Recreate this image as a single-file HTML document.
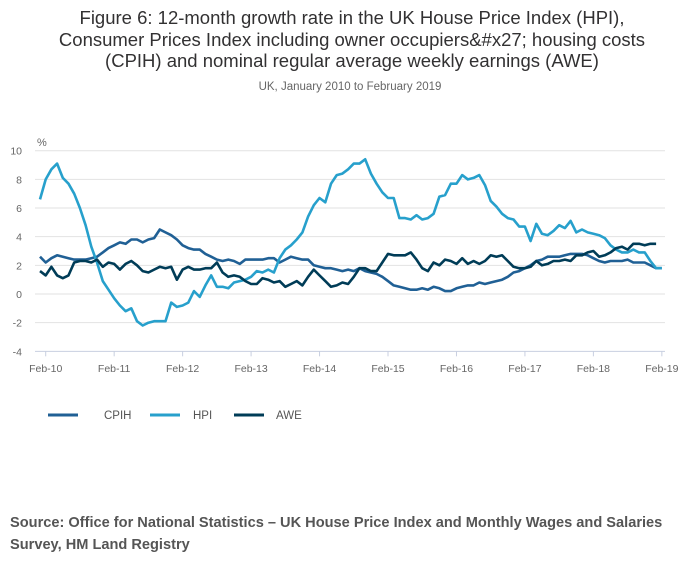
<!DOCTYPE html>
<html><head><meta charset="utf-8"><style>
body{margin:0;width:700px;height:574px;background:#fff;font-family:"Liberation Sans",sans-serif;overflow:hidden}
svg text{font-family:"Liberation Sans",sans-serif}
</style></head><body>
<svg id="chart" width="700" height="574" xmlns="http://www.w3.org/2000/svg">
<g fill="#323132" font-size="18.5" text-anchor="middle">
<text x="352" y="24">Figure 6: 12-month growth rate in the UK House Price Index (HPI),</text>
<text x="352" y="46">Consumer Prices Index including owner occupiers&amp;#x27; housing costs</text>
<text x="352" y="67">(CPIH) and nominal regular average weekly earnings (AWE)</text>
</g>
<text x="350" y="90" font-size="11.5" fill="#666" text-anchor="middle">UK, January 2010 to February 2019</text>
<text x="37" y="146" font-size="11" fill="#666">%</text>
<g id="grid"></g><g id="axes"></g><g id="series"></g>
<g font-size="11.5" fill="#555">
<line x1="48" y1="415" x2="78" y2="415" stroke="#206095" stroke-width="3"/>
<text x="104" y="419">CPIH</text>
<line x1="150" y1="415" x2="180" y2="415" stroke="#27a0cc" stroke-width="3"/>
<text x="193" y="419">HPI</text>
<line x1="234" y1="415" x2="264" y2="415" stroke="#003c57" stroke-width="3"/>
<text x="276" y="419">AWE</text>
</g>
<g font-size="14.6" font-weight="bold" fill="#555">
<text x="10" y="527">Source: Office for National Statistics – UK House Price Index and Monthly Wages and Salaries</text>
<text x="10" y="549">Survey, HM Land Registry</text>
</g>
</svg>
<script>
const yTicks=[10,8,6,4,2,0,-2,-4];
const xTickLabels=["Feb-10","Feb-11","Feb-12","Feb-13","Feb-14","Feb-15","Feb-16","Feb-17","Feb-18","Feb-19"];
const hpi=[6.6,8.0,8.7,9.1,8.1,7.7,7.0,6.0,4.8,3.3,2.2,0.9,
0.3,-0.3,-0.8,-1.2,-1.0,-1.9,-2.2,-2.0,-1.9,-1.9,-1.9,-0.6,
-0.9,-0.8,-0.6,0.2,-0.2,0.6,1.3,0.5,0.5,0.4,0.8,0.9,
1.0,1.2,1.6,1.5,1.7,1.5,2.5,3.1,3.4,3.8,4.3,5.4,
6.2,6.7,6.4,7.7,8.3,8.4,8.7,9.1,9.1,9.4,8.4,7.7,
7.1,6.7,6.7,5.3,5.3,5.2,5.5,5.2,5.3,5.6,6.8,6.9,
7.7,7.7,8.3,8.0,8.1,8.3,7.6,6.5,6.1,5.6,5.3,5.2,
4.7,4.7,3.7,4.9,4.2,4.1,4.4,4.8,4.6,5.1,4.3,4.5,
4.3,4.2,4.1,3.9,3.4,3.1,2.9,2.9,3.1,2.9,2.9,2.3,
1.8,1.8];
const cpih=[2.6,2.2,2.5,2.7,2.6,2.5,2.4,2.4,2.4,2.5,2.6,2.9,
3.2,3.4,3.6,3.5,3.8,3.8,3.6,3.8,3.9,4.5,4.3,4.1,
3.8,3.4,3.2,3.1,3.1,2.8,2.6,2.4,2.3,2.4,2.3,2.1,
2.4,2.4,2.4,2.4,2.5,2.5,2.2,2.4,2.6,2.5,2.4,2.4,
2.0,1.9,1.8,1.8,1.7,1.6,1.7,1.6,1.8,1.6,1.5,1.4,
1.2,0.9,0.6,0.5,0.4,0.3,0.3,0.4,0.3,0.5,0.4,0.2,
0.2,0.4,0.5,0.6,0.6,0.8,0.7,0.8,0.9,1.0,1.2,1.5,
1.6,1.8,2.0,2.3,2.4,2.6,2.6,2.6,2.7,2.8,2.8,2.8,
2.7,2.5,2.3,2.2,2.3,2.3,2.3,2.4,2.2,2.2,2.2,2.0,
1.8,1.8];
const awe=[1.6,1.3,1.9,1.3,1.1,1.3,2.2,2.3,2.3,2.2,2.4,1.9,
2.2,2.1,1.7,2.1,2.3,2.0,1.6,1.5,1.7,1.9,1.8,1.9,
1.0,1.7,1.9,1.7,1.7,1.8,1.8,2.2,1.5,1.2,1.3,1.2,
0.9,0.7,0.7,1.1,1.0,0.8,0.9,0.5,0.7,0.9,0.6,1.2,
1.7,1.3,0.9,0.5,0.6,0.8,0.7,1.2,1.8,1.8,1.6,1.6,
2.2,2.8,2.7,2.7,2.7,2.9,2.4,1.8,1.6,2.2,2.0,2.4,
2.3,2.1,2.5,2.1,2.3,2.1,2.3,2.7,2.6,2.7,2.3,1.9,
1.8,1.8,1.9,2.3,2.0,2.1,2.3,2.3,2.4,2.3,2.7,2.7,
2.9,3.0,2.6,2.7,2.9,3.2,3.3,3.1,3.5,3.5,3.4,3.5,
3.5];
const NS="http://www.w3.org/2000/svg";
const x=i=>40+i*5.705;
const y=v=>294-v*14.33;
function mk(t,a,p){const e=document.createElementNS(NS,t);for(const k in a)e.setAttribute(k,a[k]);p.appendChild(e);return e;}
const grid=document.getElementById('grid'),axes=document.getElementById('axes'),ser=document.getElementById('series');
yTicks.forEach(v=>{
  if(v>-4){const l=mk('line',{x1:35,x2:665,y1:y(v),y2:y(v),stroke:'#e2e2e2','stroke-width':1},grid);
  
  }
  const t=mk('text',{x:22,y:y(v)+4,'font-size':10.5,fill:'#666','text-anchor':'end'},axes);t.textContent=v;
  
  
});
const ax=mk('line',{x1:35,x2:665,y1:y(-4),y2:y(-4),stroke:'#c8cfe0','stroke-width':1},axes);


xTickLabels.forEach((lab,k)=>{
  const xx=x(1+k*12);
  mk('line',{x1:xx,x2:xx,y1:y(-4),y2:y(-4)+5,stroke:'#c8cfe0'},axes);
  const t=mk('text',{x:xx,y:372,'font-size':10.5,fill:'#666','text-anchor':'middle'},axes);t.textContent=lab;
  
  
});
[[cpih,'#206095','cpih-line'],[hpi,'#27a0cc','hpi-line'],[awe,'#003c57','awe-line']].forEach(([d,c,n])=>{
  const p=mk('polyline',{points:d.map((v,i)=>x(i).toFixed(1)+','+y(v).toFixed(1)).join(' '),fill:'none',stroke:c,'stroke-width':2.6,'stroke-linejoin':'round'},ser);
  
  
});
</script>
</body></html>
